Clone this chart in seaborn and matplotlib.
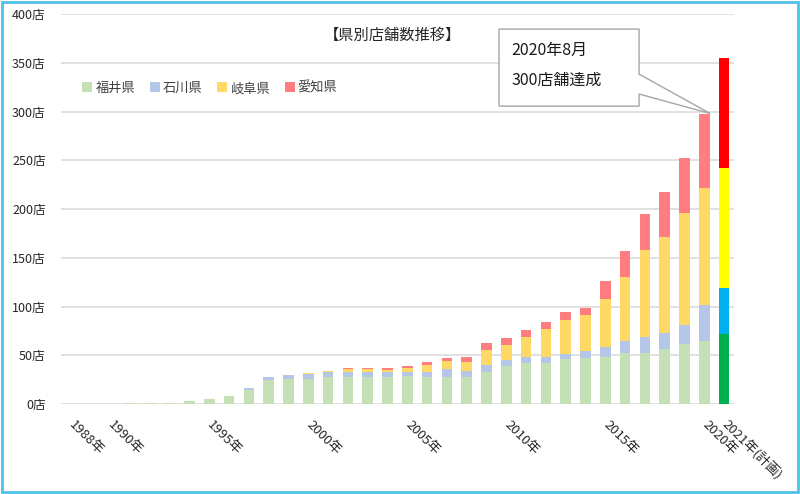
import matplotlib
matplotlib.use("Agg")
import matplotlib.pyplot as plt
from matplotlib.patches import Polygon, Rectangle
from matplotlib.lines import Line2D
import seaborn as sns
import pandas as pd
import numpy as np

# ---------------- data ----------------
years = [str(y) for y in range(1988, 2021)] + ["2021(計画)"]
fukui = [0, 0, 0, 1, 1, 1, 3, 5, 8, 14, 25, 26,
         26, 28, 28, 28, 28, 29, 28, 28, 28, 33,
         39, 42, 42, 46, 47, 48, 52, 52, 57, 62,
         65, 72]
ishikawa = [0, 0, 0, 0, 0, 0, 0, 0, 0, 2, 3, 4,
            5, 5, 5, 5, 5, 4, 5, 8, 6, 7,
            6, 6, 6, 5, 7, 11, 13, 17, 16, 19,
            37, 47]
gifu = [0, 0, 0, 0, 0, 0, 0, 0, 0, 0, 0, 0,
        1, 1, 3, 3, 2, 4, 7, 8, 9, 15,
        16, 21, 29, 35, 37, 49, 65, 89, 98, 115,
        120, 123]
aichi = [0, 0, 0, 0, 0, 0, 0, 0, 0, 0, 0, 0,
         0, 0, 1, 1, 2, 2, 3, 3, 5, 8,
         7, 7, 7, 8, 8, 18, 27, 37, 47, 56,
         76, 113]
series_names = ["福井県", "石川県", "岐阜県", "愛知県"]
tick_years = ["1988", "1990", "1995", "2000", "2005", "2010", "2015", "2020", "2021(計画)"]
tick_labels = ["1988年", "1990年", "1995年", "2000年", "2005年", "2010年", "2015年", "2020年", "2021年(計画)"]
yticks = [0, 50, 100, 150, 200, 250, 300, 350, 400]
title = "【県別店舗数推移】"
callout_lines = ["2020年8月", "300店舗達成"]
callout_year = "2020"

# colours
pastel = ["#C5E0B4", "#B4C7E7", "#FFD966", "#FF7C80"]
plan = ["#00B050", "#00B0F0", "#FFFF00", "#FF0000"]
plan_year = "2021(計画)"

# ---------------- build ----------------
sns.set_theme(style="white")
plt.rcParams["font.family"] = ["Noto Sans CJK JP", "DejaVu Sans"]

df = pd.DataFrame({"year": years, "福井県": fukui, "石川県": ishikawa,
                   "岐阜県": gifu, "愛知県": aichi})
layers = [np.array(df[n]) for n in series_names]
cum = np.cumsum(np.vstack(layers), axis=0)

fig = plt.figure(figsize=(8, 4.94), dpi=100)
ax = fig.add_axes([0.076, 0.182, 0.8415, 0.7895])

# draw from top (total) down so lower layers overlay
for i in range(3, -1, -1):
    d = pd.DataFrame({"year": years, "v": cum[i]})
    pal = {y: (plan[i] if y == plan_year else pastel[i]) for y in years}
    sns.barplot(data=d, x="year", y="v", hue="year", palette=pal, order=years,
                hue_order=years, legend=False, width=0.54, saturation=1,
                linewidth=0, ax=ax, zorder=3)

ax.set_xlim(-0.5, len(years) - 0.5)
ax.set_ylim(0, 400)
ax.set_yticks(yticks)
ax.set_yticklabels([f"{v}店" for v in yticks], fontsize=9, color="#262626")
ax.yaxis.grid(True, color="#D9D9D9", linewidth=1.1, zorder=0)
ax.xaxis.grid(False)
ax.set_axisbelow(True)
for s in ax.spines.values():
    s.set_visible(False)
ax.tick_params(axis="y", length=0, pad=11)
ax.tick_params(axis="x", length=0, pad=4)
ax.set_xlabel("")
ax.set_ylabel("")

pos = [years.index(y) for y in tick_years]
ax.set_xticks(pos)
ax.set_xticklabels(tick_labels, rotation=-45, ha="left", va="center",
                   rotation_mode="anchor", fontsize=9.5, color="#262626")
for lbl in ax.get_xticklabels():
    lbl.set_y(-0.033)

# title
ax.text(0.492, 0.945, title, transform=ax.transAxes, ha="center", va="center",
        fontsize=11, color="#262626")

# legend
handles = [Line2D([], [], marker="s", linestyle="", markersize=6.5,
                  markerfacecolor=c, markeredgewidth=0, color=c) for c in pastel]
ax.legend(handles, series_names, ncol=4, loc="center left",
          bbox_to_anchor=(0.012, 0.809), frameon=False, fontsize=9.5,
          handletextpad=0.1, columnspacing=1.0, handlelength=1.0,
          labelcolor="#404040")

# callout
fig.canvas.draw()
xi = years.index(callout_year)
total = cum[3][xi]
tip_disp = ax.transData.transform((xi + 0.3, total))
tip = ax.transAxes.inverted().transform(tip_disp)
x0, x1, y0, y1 = 0.651, 0.859, 0.764, 0.9615
pts = [(x0, y1), (x1, y1), (x1, 0.846), tuple(tip), (x1, 0.795), (x1, y0), (x0, y0)]
ax.add_patch(Polygon(pts, closed=True, transform=ax.transAxes, facecolor="white",
                     edgecolor="#A6A6A6", linewidth=1.0, zorder=6))
ax.text(0.669, 0.908, callout_lines[0], transform=ax.transAxes, ha="left",
        va="center", fontsize=11.5, color="#1a1a1a", zorder=7)
ax.text(0.669, 0.831, callout_lines[1], transform=ax.transAxes, ha="left",
        va="center", fontsize=11.5, color="#1a1a1a", zorder=7)

# outer frame
fig.patches.append(Rectangle((0.003, 0.004), 0.994, 0.992, transform=fig.transFigure,
                             fill=False, edgecolor="#4FC1E9", linewidth=2))

fig.savefig("out.png", dpi=100)
